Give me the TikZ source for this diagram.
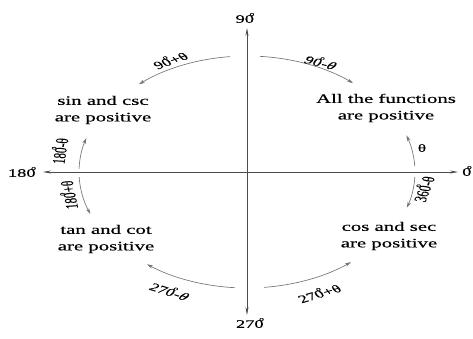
\documentclass[tikz,border=0pt]{standalone}
\usepackage{fontspec}
\setmainfont[FakeBold=0.3,AutoFakeBold=0.3]{Liberation Serif}
\usetikzlibrary{arrows.meta}
\newcommand\dg{\kern-0.24em\raisebox{0.6em}{\fontsize{6}{6}\selectfont o}}
\begin{document}
\begin{tikzpicture}[x=1pt,y=1pt,
  stretched/.style={xscale=1.6, inner sep=0pt},
  block/.style={stretched, align=center, font=\fontsize{13}{16.5}\selectfont},
  angl/.style={stretched, font=\fontsize{11}{13}\selectfont},
  axlab/.style={stretched, font=\fontsize{11.5}{13}\selectfont},
  axisline/.style={draw=black!70, line width=0.6pt, -{Stealth[length=8pt,width=3pt]}},
  arcline/.style={draw=black!55, line width=0.65pt, -{Stealth[length=6pt,width=3.5pt]}},
]
\useasboundingbox (-247,-166) rectangle (226,172);
% axes
\coordinate (O) at (0,0);
\coordinate (E) at (211,0);
\coordinate (W) at (-204,0);
\coordinate (N) at (0,144);
\coordinate (S) at (0,-143);
\draw[axisline] (O) -- (E);
\draw[axisline] (O) -- (W);
\draw[axisline] (O) -- (N);
\draw[axisline] (O) -- (S);
\node[axlab] (l90)  at (-2,154) {90\dg};
\node[axlab] (l270) at (3,-151) {270\dg};
\node[axlab] (l180) at (-225,0) {180\dg};
\node[axlab] (l0)   at (220,1) {0\dg};
% quadrant texts
\node[block] (q2) at (-144,62) {sin and csc\\are positive};
\node[block] (q1) at (139,64) {All the functions\\are positive};
\node[block] (q3) at (-141,-67) {tan and cot\\are positive};
\node[block] (q4) at (142,-64) {cos and sec\\are positive};
% arcs
\draw[arcline] (95.9:165 and 116) arc[start angle=95.9, end angle=130.9, x radius=165, y radius=116];
\draw[arcline] (85.5:165 and 116) arc[start angle=85.5, end angle=50, x radius=165, y radius=116];
\draw[arcline] (2.9:168 and 116) arc[start angle=2.9, end angle=18.4, x radius=168, y radius=116];
\draw[arcline] (-2.5:168 and 116) arc[start angle=-2.5, end angle=-17.9, x radius=168, y radius=116];
\draw[arcline] (178.5:168 and 116) arc[start angle=178.5, end angle=163, x radius=168, y radius=116];
\draw[arcline] (182.5:168 and 116) arc[start angle=182.5, end angle=201.2, x radius=168, y radius=116];
\draw[arcline] (265.8:165 and 116) arc[start angle=265.8, end angle=232.7, x radius=165, y radius=116];
\draw[arcline] (275.9:165 and 116) arc[start angle=275.9, end angle=309, x radius=165, y radius=116];
% angle labels
\node[angl, rotate=29] (a1) at (-77,112) {90\dg+θ};
\node[angl, rotate=-22] (a2) at (74,110) {90\dg-\textit{θ}};
\node[angl] (a3) at (175,24) {θ};
\node[angl, rotate=76] (a4) at (176,-17) {360\dg-θ};
\node[angl, rotate=84] (a5) at (-188,21) {180\dg-θ};
\node[angl, rotate=97] (a6) at (-179,-23) {180\dg+θ};
\node[angl, rotate=-27] (a7) at (-77,-119) {270\dg-\textit{θ}};
\node[angl, rotate=25.6] (a8) at (72,-121) {270\dg+θ};
\end{tikzpicture}
\end{document}
